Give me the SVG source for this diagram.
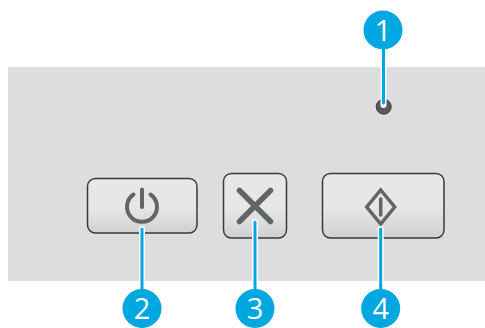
<svg xmlns="http://www.w3.org/2000/svg" width="485" height="328" viewBox="0 0 485 328">
<style>
.btn{fill:url(#g);stroke:#3a3a3c;stroke-width:1.5}
.ico{fill:none;stroke:#636466;stroke-linecap:round}
.halo{stroke:#fff;stroke-width:6;fill:none;stroke-linecap:round}
.lead{stroke:#00a7e1;stroke-width:3;fill:none;stroke-linecap:round}
.dot{fill:#00a7e1}
.num{font-family:"Open Sans","Noto Sans",sans-serif;font-size:29px;font-weight:500;fill:#fff;text-anchor:middle}
</style>
<defs>
<linearGradient id="g" x1="0" y1="0" x2="0" y2="1">
<stop offset="0" stop-color="#e7e8ea"/><stop offset="0.55" stop-color="#e5e6e8"/><stop offset="1" stop-color="#cfd0d2"/>
</linearGradient>
</defs>
<rect x="8" y="67" width="477" height="214" fill="#dcddde"/>
<g id="led"><circle cx="383.700" cy="106.700" r="7.500" fill="#58595b" stroke="#3a3a3c" stroke-width="1"/></g>
<g id="power-button"><rect class="btn" x="87.500" y="178.500" width="109.500" height="54.500" rx="8"/>
<path class="ico" stroke-width="4" d="M133.500 194.500a15 15 0 1 0 17 0"/><path class="ico" stroke-width="4" d="M142 189.500v17.500"/></g>
<g id="cancel-button"><rect class="btn" x="223.500" y="173.500" width="63" height="64.500" rx="8"/>
<path class="ico" stroke-width="5.500" d="M239.500 190.500l31 31M270.500 190.500l-31 31"/></g>
<g id="start-button"><rect class="btn" x="322.500" y="173.500" width="121.500" height="64.500" rx="8"/>
<path class="ico" stroke-width="3.500" stroke-linejoin="miter" d="M380.700 190l14 17-14 17-14-17z"/><path class="ico" stroke-width="3.500" d="M380.700 199v16"/></g>
<g id="connectors">
<path class="halo" d="M383.500 48V105M142 229V290M255 222V290M380.700 229V290"/>
<path class="lead" d="M383.500 48V103M142 229V290M255 222V290M380.700 229V290"/>
</g>
<g id="callout-1"><circle class="dot" cx="383" cy="30" r="19.500"/><text class="num" x="383" y="40.500">1</text></g>
<g id="callout-2"><circle class="dot" cx="142" cy="308.500" r="19.500"/><text class="num" x="142" y="318.500">2</text></g>
<g id="callout-3"><circle class="dot" cx="255" cy="308.500" r="19.500"/><text class="num" x="255" y="318.500">3</text></g>
<g id="callout-4"><circle class="dot" cx="380.700" cy="308.500" r="19.500"/><text class="num" x="380.700" y="318.500">4</text></g>
</svg>
